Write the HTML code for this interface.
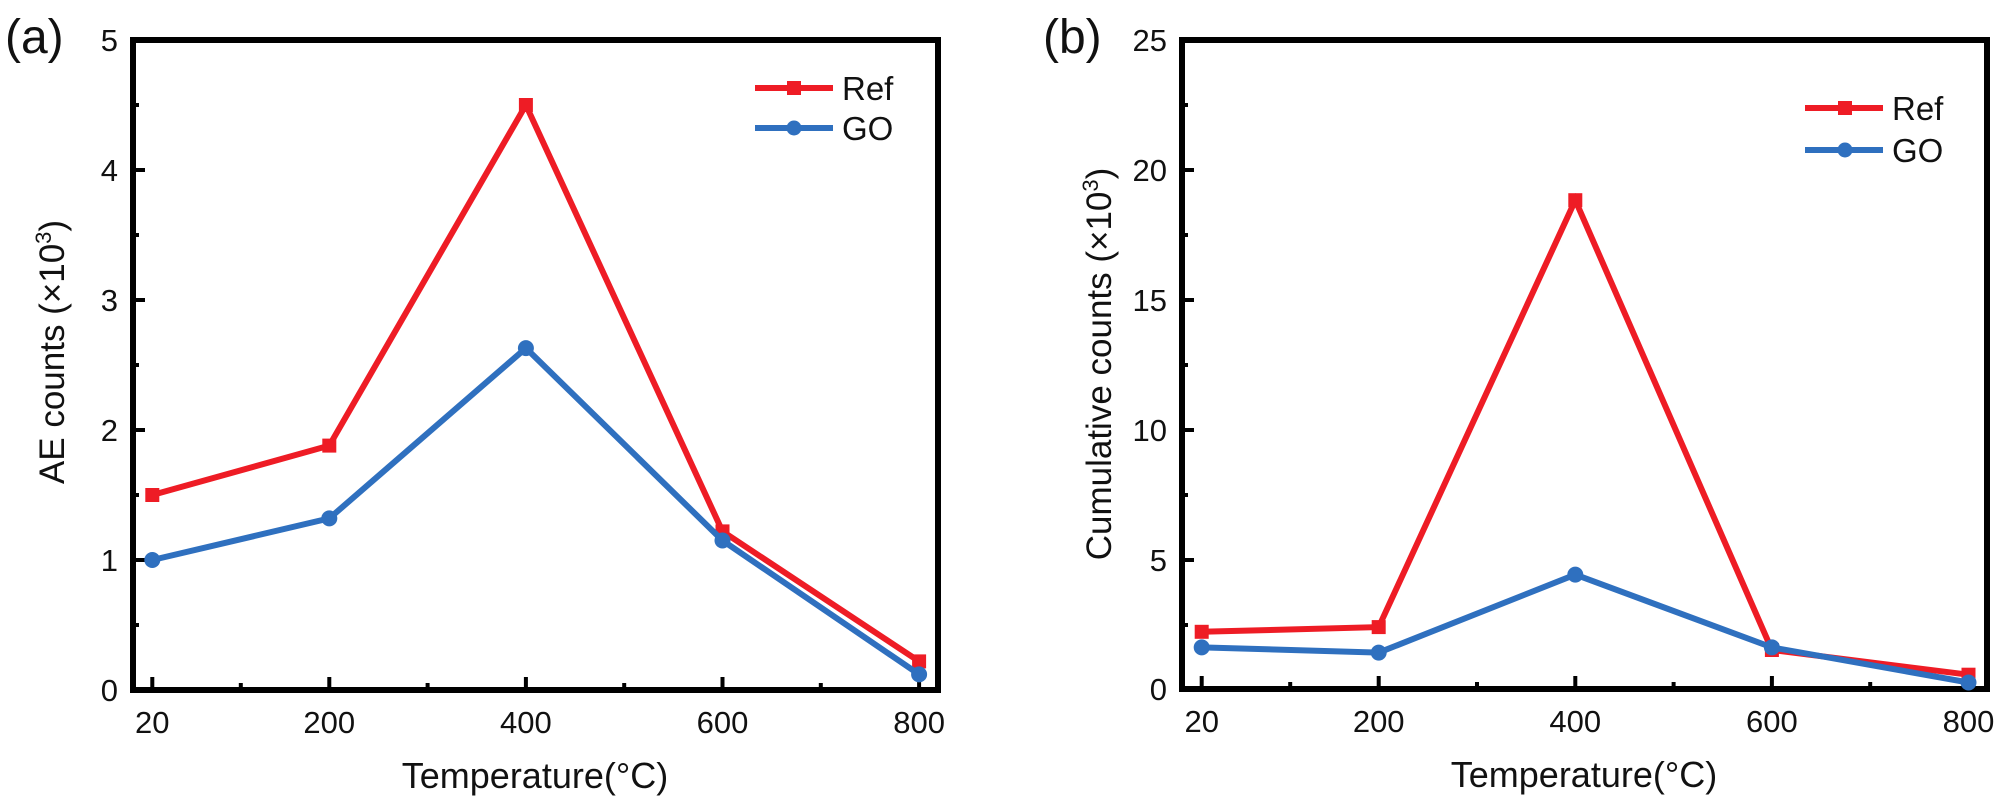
<!DOCTYPE html>
<html><head><meta charset="utf-8"><style>
html,body{margin:0;padding:0;background:#fff;}
svg{display:block;font-family:"Liberation Sans",Arial,sans-serif;}
</style></head><body>
<svg width="2000" height="812" viewBox="0 0 2000 812" xmlns="http://www.w3.org/2000/svg">
<rect width="2000" height="812" fill="#fff"/>

<!-- ===== Panel A ===== -->
<text x="5" y="53" font-size="48" fill="#111">(a)</text>
<!-- ticks y major -->
<g stroke="#000" stroke-width="4">
  <line x1="133" y1="170" x2="145" y2="170"/>
  <line x1="133" y1="300" x2="145" y2="300"/>
  <line x1="133" y1="430" x2="145" y2="430"/>
  <line x1="133" y1="560" x2="145" y2="560"/>
</g>
<g stroke="#000" stroke-width="4">
  <line x1="133" y1="105" x2="139" y2="105"/>
  <line x1="133" y1="235" x2="139" y2="235"/>
  <line x1="133" y1="365" x2="139" y2="365"/>
  <line x1="133" y1="495" x2="139" y2="495"/>
  <line x1="133" y1="625" x2="139" y2="625"/>
</g>
<!-- ticks x -->
<g stroke="#000" stroke-width="4">
  <line x1="152.3" y1="690" x2="152.3" y2="677"/>
  <line x1="329.3" y1="690" x2="329.3" y2="677"/>
  <line x1="525.9" y1="690" x2="525.9" y2="677"/>
  <line x1="722.5" y1="690" x2="722.5" y2="677"/>
  <line x1="919.1" y1="690" x2="919.1" y2="677"/>
  <line x1="240.8" y1="690" x2="240.8" y2="683"/>
  <line x1="427.6" y1="690" x2="427.6" y2="683"/>
  <line x1="624.2" y1="690" x2="624.2" y2="683"/>
  <line x1="820.8" y1="690" x2="820.8" y2="683"/>
</g>
<rect x="133" y="40" width="805" height="650" fill="none" stroke="#000" stroke-width="6"/>
<!-- tick labels -->
<g font-size="31" fill="#111" text-anchor="end">
  <text x="118" y="51">5</text>
  <text x="118" y="181">4</text>
  <text x="118" y="311">3</text>
  <text x="118" y="441">2</text>
  <text x="118" y="571">1</text>
  <text x="118" y="701">0</text>
</g>
<g font-size="31" fill="#111" text-anchor="middle">
  <text x="152.3" y="733">20</text>
  <text x="329.3" y="733">200</text>
  <text x="525.9" y="733">400</text>
  <text x="722.5" y="733">600</text>
  <text x="919.1" y="733">800</text>
</g>
<text x="535" y="788" font-size="36" fill="#111" text-anchor="middle">Temperature(°C)</text>
<text transform="translate(64,352) rotate(-90)" font-size="35" fill="#111" text-anchor="middle">AE counts (×10<tspan font-size="22" dy="-13">3</tspan><tspan dy="13">)</tspan></text>

<!-- series A -->
<polyline fill="none" stroke="#ee1c25" stroke-width="6" stroke-linejoin="miter" points="152.3,495 329.3,445.6 525.9,105 722.5,531.4 919.1,661.4"/>
<g fill="#ee1c25">
  <rect x="145.3" y="488" width="14" height="14"/>
  <rect x="322.3" y="438.6" width="14" height="14"/>
  <rect x="518.9" y="98" width="14" height="14"/>
  <rect x="715.5" y="524.4" width="14" height="14"/>
  <rect x="912.1" y="654.4" width="14" height="14"/>
</g>
<polyline fill="none" stroke="#2f70bf" stroke-width="6" points="152.3,560 329.3,518.4 525.9,348.1 722.5,540.5 919.1,674.4"/>
<g fill="#2f70bf">
  <circle cx="152.3" cy="560" r="8"/>
  <circle cx="329.3" cy="518.4" r="8"/>
  <circle cx="525.9" cy="348.1" r="8"/>
  <circle cx="722.5" cy="540.5" r="8"/>
  <circle cx="919.1" cy="674.4" r="8"/>
</g>
<!-- legend A -->
<line x1="755" y1="88" x2="833" y2="88" stroke="#ee1c25" stroke-width="6"/>
<rect x="787" y="81" width="14" height="14" fill="#ee1c25"/>
<text x="842" y="100" font-size="33" fill="#111">Ref</text>
<line x1="755" y1="128" x2="833" y2="128" stroke="#2f70bf" stroke-width="6"/>
<circle cx="794" cy="128" r="7.5" fill="#2f70bf"/>
<text x="842" y="140" font-size="33" fill="#111">GO</text>

<!-- ===== Panel B ===== -->
<text x="1043" y="53" font-size="48" fill="#111">(b)</text>
<g stroke="#000" stroke-width="4">
  <line x1="1182" y1="170" x2="1194" y2="170"/>
  <line x1="1182" y1="300" x2="1194" y2="300"/>
  <line x1="1182" y1="430" x2="1194" y2="430"/>
  <line x1="1182" y1="560" x2="1194" y2="560"/>
  <line x1="1182" y1="105" x2="1188" y2="105"/>
  <line x1="1182" y1="235" x2="1188" y2="235"/>
  <line x1="1182" y1="365" x2="1188" y2="365"/>
  <line x1="1182" y1="495" x2="1188" y2="495"/>
  <line x1="1182" y1="625" x2="1188" y2="625"/>
</g>
<g stroke="#000" stroke-width="4">
  <line x1="1201.7" y1="689" x2="1201.7" y2="676"/>
  <line x1="1378.7" y1="689" x2="1378.7" y2="676"/>
  <line x1="1575.3" y1="689" x2="1575.3" y2="676"/>
  <line x1="1771.9" y1="689" x2="1771.9" y2="676"/>
  <line x1="1968.5" y1="689" x2="1968.5" y2="676"/>
  <line x1="1290.2" y1="689" x2="1290.2" y2="682"/>
  <line x1="1477" y1="689" x2="1477" y2="682"/>
  <line x1="1673.6" y1="689" x2="1673.6" y2="682"/>
  <line x1="1870.2" y1="689" x2="1870.2" y2="682"/>
</g>
<rect x="1182" y="40" width="805" height="649" fill="none" stroke="#000" stroke-width="6"/>
<g font-size="31" fill="#111" text-anchor="end">
  <text x="1167" y="51">25</text>
  <text x="1167" y="181">20</text>
  <text x="1167" y="311">15</text>
  <text x="1167" y="441">10</text>
  <text x="1167" y="571">5</text>
  <text x="1167" y="700">0</text>
</g>
<g font-size="31" fill="#111" text-anchor="middle">
  <text x="1201.7" y="732">20</text>
  <text x="1378.7" y="732">200</text>
  <text x="1575.3" y="732">400</text>
  <text x="1771.9" y="732">600</text>
  <text x="1968.5" y="732">800</text>
</g>
<text x="1584" y="787" font-size="36" fill="#111" text-anchor="middle">Temperature(°C)</text>
<text transform="translate(1111,364) rotate(-90)" font-size="35" fill="#111" text-anchor="middle">Cumulative counts (×10<tspan font-size="22" dy="-13">3</tspan><tspan dy="13">)</tspan></text>

<!-- series B: y = 689 - 26*v -->
<polyline fill="none" stroke="#ee1c25" stroke-width="6" points="1201.7,631.8 1378.7,627.1 1575.3,200.2 1771.9,650 1968.5,674.7"/>
<g fill="#ee1c25">
  <rect x="1194.7" y="624.8" width="14" height="14"/>
  <rect x="1371.7" y="620.1" width="14" height="14"/>
  <rect x="1568.3" y="193.2" width="14" height="14"/>
  <rect x="1764.9" y="643" width="14" height="14"/>
  <rect x="1961.5" y="667.7" width="14" height="14"/>
</g>
<polyline fill="none" stroke="#2f70bf" stroke-width="6" points="1201.7,647.4 1378.7,652.6 1575.3,574.6 1771.9,647.4 1968.5,682.5"/>
<g fill="#2f70bf">
  <circle cx="1201.7" cy="647.4" r="8"/>
  <circle cx="1378.7" cy="652.6" r="8"/>
  <circle cx="1575.3" cy="574.6" r="8"/>
  <circle cx="1771.9" cy="647.4" r="8"/>
  <circle cx="1968.5" cy="682.5" r="8"/>
</g>
<!-- legend B -->
<line x1="1805" y1="108" x2="1883" y2="108" stroke="#ee1c25" stroke-width="6"/>
<rect x="1838" y="101" width="14" height="14" fill="#ee1c25"/>
<text x="1892" y="120" font-size="33" fill="#111">Ref</text>
<line x1="1805" y1="150" x2="1883" y2="150" stroke="#2f70bf" stroke-width="6"/>
<circle cx="1845" cy="150" r="7.5" fill="#2f70bf"/>
<text x="1892" y="162" font-size="33" fill="#111">GO</text>
</svg>
</body></html>
